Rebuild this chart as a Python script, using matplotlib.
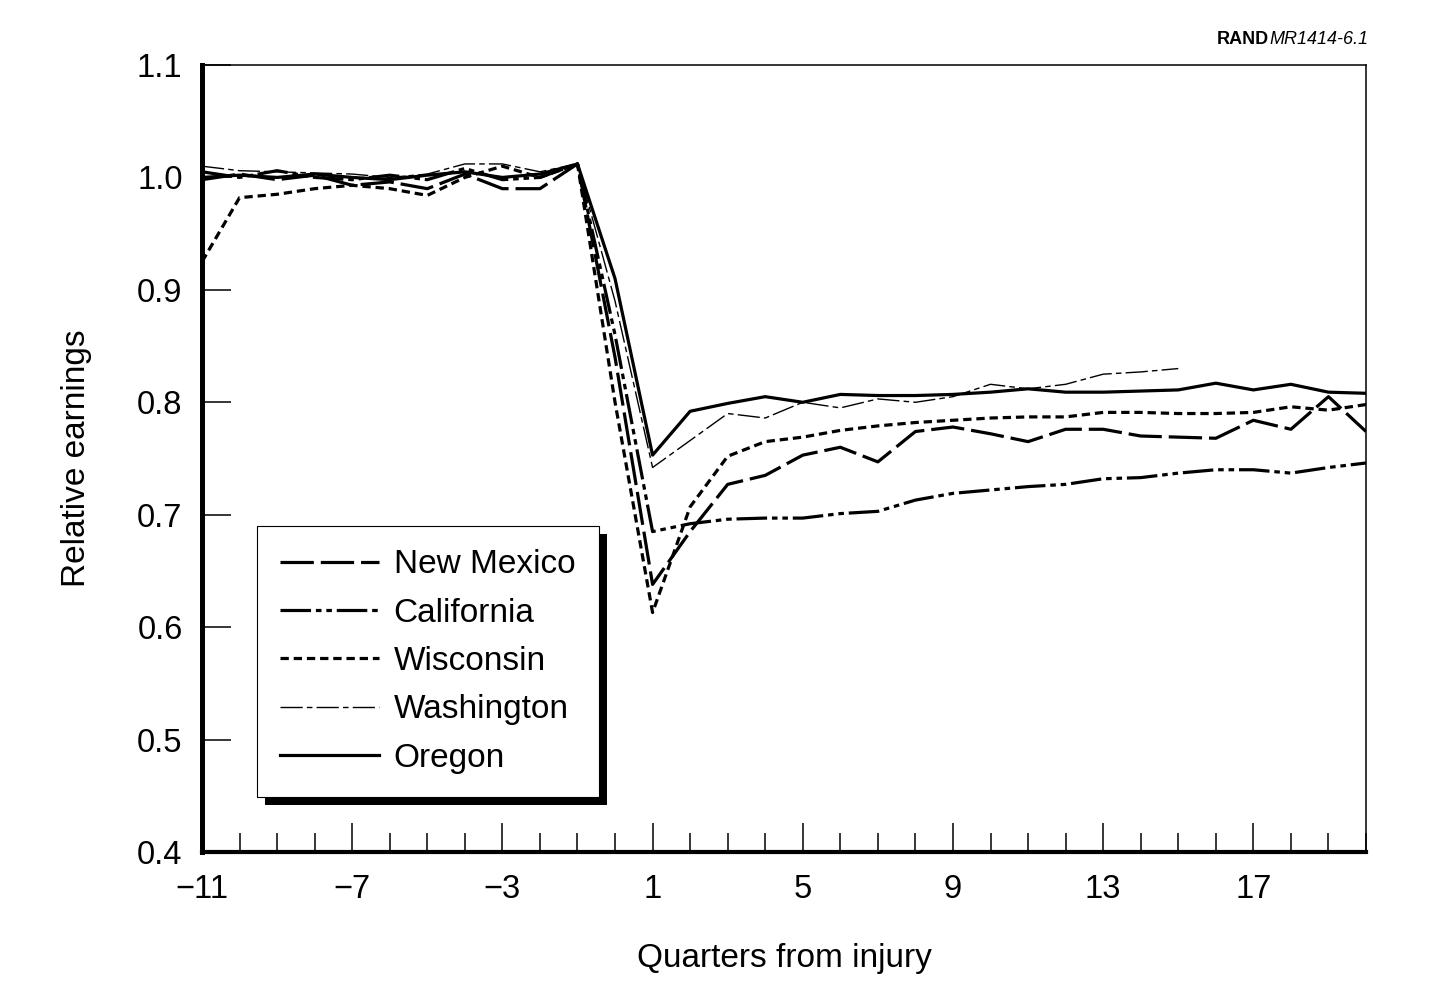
import matplotlib
matplotlib.use('Agg')
import matplotlib.pyplot as plt
from matplotlib.patches import Rectangle
from matplotlib.transforms import IdentityTransform
from matplotlib.ticker import MultipleLocator, FormatStrFormatter

plt.rcParams['font.family'] = 'Liberation Sans'
plt.rcParams['lines.scale_dashes'] = False

quarters = list(range(-11, 21))
quarters_wa = list(range(-11, 16))

new_mexico = [0.998, 1.003, 0.998, 1.002, 0.993, 0.996, 0.990, 1.003, 0.990, 0.990, 1.012,
              0.840, 0.638, 0.685, 0.727, 0.735, 0.753, 0.760, 0.747, 0.774, 0.778, 0.772,
              0.765, 0.776, 0.776, 0.770, 0.769, 0.768, 0.784, 0.776, 0.805, 0.774]
california = [1.005, 1.000, 1.006, 1.000, 0.998, 1.002, 0.998, 1.008, 0.998, 1.000, 1.012,
              0.860, 0.685, 0.692, 0.696, 0.697, 0.697, 0.701, 0.703, 0.713, 0.719, 0.722,
              0.725, 0.727, 0.732, 0.733, 0.737, 0.740, 0.740, 0.737, 0.742, 0.746]
wisconsin = [0.925, 0.982, 0.985, 0.990, 0.993, 0.990, 0.984, 1.000, 1.010, 1.000, 1.012,
             0.800, 0.613, 0.707, 0.752, 0.765, 0.769, 0.775, 0.779, 0.782, 0.784, 0.786,
             0.787, 0.787, 0.791, 0.791, 0.790, 0.790, 0.791, 0.796, 0.793, 0.798]
washington = [1.010, 1.006, 1.005, 1.004, 1.003, 1.000, 1.003, 1.012, 1.012, 1.005, 1.012,
              0.890, 0.742, 0.766, 0.790, 0.786, 0.800, 0.795, 0.803, 0.800, 0.805, 0.816,
              0.812, 0.816, 0.825, 0.827, 0.830]
oregon = [1.000, 1.002, 1.000, 1.003, 1.000, 0.998, 1.002, 1.005, 1.000, 1.003, 1.012,
          0.910, 0.753, 0.792, 0.799, 0.805, 0.800, 0.807, 0.806, 0.806, 0.807, 0.809,
          0.812, 0.809, 0.809, 0.810, 0.811, 0.817, 0.811, 0.816, 0.809, 0.808]

fig = plt.figure(figsize=(14.36, 9.83), dpi=100)
ax = fig.add_axes([202/1436, 1 - 852/983, (1366-202)/1436, (852-65)/983])

ax.plot(quarters, new_mexico, color='k', lw=2.3, ls=(0, (24, 5)), label='New Mexico')
ax.plot(quarters, california, color='k', lw=2.3, ls=(0, (22, 3.5, 4, 3.5, 4, 3.5)), label='California')
ax.plot(quarters, wisconsin, color='k', lw=2.3, ls=(0, (6, 3.5)), label='Wisconsin')
ax.plot(quarters_wa, washington, color='k', lw=1.0, ls=(0, (16, 3, 4, 3)), label='Washington')
ax.plot(quarters, oregon, color='k', lw=2.3, ls='-', label='Oregon')

ax.set_xlim(-11, 20)
ax.set_ylim(0.4, 1.1)
ax.set_xticks([-11, -7, -3, 1, 5, 9, 13, 17])
ax.xaxis.set_minor_locator(MultipleLocator(1))
ax.yaxis.set_major_locator(MultipleLocator(0.1))
ax.yaxis.set_major_formatter(FormatStrFormatter('%.1f'))
ax.tick_params(axis='both', which='major', direction='in', length=21, width=1.1,
               labelsize=23.5, color='k')
ax.tick_params(axis='x', which='minor', direction='in', length=13.5, width=1.1)
ax.tick_params(axis='x', which='major', pad=16)
ax.tick_params(axis='y', which='major', pad=14)

ax.spines['left'].set_linewidth(3.6)
ax.spines['bottom'].set_linewidth(3.0)
ax.spines['top'].set_linewidth(1.1)
ax.spines['right'].set_linewidth(1.1)

ax.set_xlabel('Quarters from injury', size=24, labelpad=27)
ax.set_ylabel('Relative earnings', size=24, labelpad=32)

leg = ax.legend(loc='lower left', bbox_to_anchor=((257-202)/1164, (852-797)/787),
                borderaxespad=0, fontsize=24, frameon=True, fancybox=False,
                framealpha=1, edgecolor='k', handlelength=2.95, handletextpad=0.45,
                borderpad=0.7, labelspacing=0.52)
leg.get_frame().set_linewidth(0.8)

fig.canvas.draw()
bb = leg.get_window_extent()
ax.add_patch(Rectangle((bb.x0 + 8, bb.y0 - 8), bb.width, bb.height, facecolor='k',
                       edgecolor='none', transform=IdentityTransform(), zorder=4.5,
                       clip_on=False))

t = fig.text(1368/1436, 1 - 39/983, 'MR1414-6.1', style='italic', ha='right',
             va='center', size=13)
ax.annotate('RAND', xy=(0, 0.5), xycoords=t, ha='right', va='center', size=13,
            weight='bold', annotation_clip=False)

fig.savefig('out.png', dpi=100)
